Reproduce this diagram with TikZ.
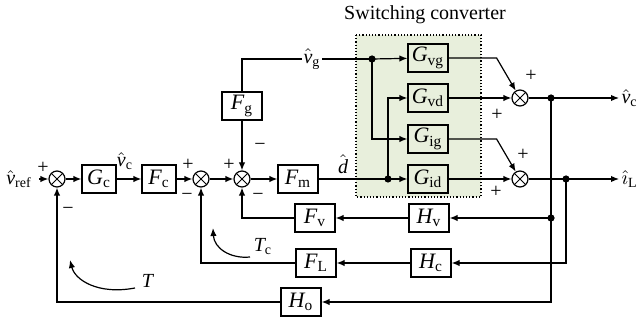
\documentclass[tikz,border=0pt]{standalone}
\usepackage{fontspec}
\setmainfont{Liberation Serif}
\usetikzlibrary{arrows.meta}
\definecolor{convgreen}{RGB}{232,239,220}
\newcommand{\tf}[2]{$\mathit{#1}_{\mathrm{#2}}$}
\newcommand{\hs}[2]{$\hat{\mathit{#1}}_{\mathrm{#2}}$}

\begin{document}
\begin{tikzpicture}[x=0.5pt,y=-0.5pt,line width=0.6pt,>={Latex[length=4pt,width=3.2pt]},
  blk/.style={draw,minimum width=20pt,minimum height=14pt,inner sep=0pt,font=\fontsize{11}{13}\selectfont},
  sblk/.style={blk,minimum width=17pt},
  sumnode/.style={draw,circle,minimum size=8pt,inner sep=0pt,
    path picture={\draw[line width=0.5pt] (path picture bounding box.north west)--(path picture bounding box.south east)
      (path picture bounding box.south west)--(path picture bounding box.north east);}},
  sgn/.style={inner sep=0pt}]
  \useasboundingbox (0,0) rectangle (637,320);
  \filldraw[fill=convgreen,densely dotted] (356,35) rectangle (481,197);
  \node (conv) at (425,15) {Switching converter};

  \node (vref) at (19,179) {\hs{v}{ref}};
  \node[sumnode] (s1) at (57,179) {};
  \node[sblk] (Gc) at (99,179) {\tf{G}{c}};
  \node (vc) at (125,161) {\hs{v}{c}};
  \node[sblk] (Fc) at (159,179) {\tf{F}{c}};
  \node[sumnode] (s2) at (201,179) {};
  \node[sumnode] (s3) at (242,179) {};
  \node[blk] (Fg) at (242,106) {\tf{F}{g}};
  \node[blk] (Fm) at (298,179) {\tf{F}{m}};
  \node (dhat) at (343,164) {$\hat{\mathit{d}}$};
  \coordinate (dd) at (388,179);
  \coordinate (dvg) at (372,59);
  \node[blk] (Gvg) at (428,58) {\tf{G}{vg}};
  \node[blk] (Gvd) at (428,98) {\tf{G}{vd}};
  \node[blk] (Gig) at (428,139) {\tf{G}{ig}};
  \node[blk] (Gid) at (428,179) {\tf{G}{id}};
  \node[sumnode] (s4) at (520,98) {};
  \node[sumnode] (s5) at (520,179) {};
  \coordinate (dvc) at (551,98);
  \coordinate (diL) at (566,179);
  \coordinate (dHv) at (551,218);
  \node[anchor=west,inner sep=1pt] (vcout) at (619,98) {\hs{v}{c}};
  \node[anchor=west,inner sep=1pt] (iLout) at (619,179) {$\hat{\imath}_{\mathrm{L}}$};
  \node[blk] (Hv) at (429,218) {\tf{H}{v}};
  \node[blk] (Fv) at (315,218) {\tf{F}{v}};
  \node[blk] (Hc) at (431,263) {\tf{H}{c}};
  \node[blk] (FL) at (316,263) {\tf{F}{L}};
  \node[blk] (Ho) at (301,302) {\tf{H}{o}};

  \draw[->] (vref) -- (s1);
  \draw[->] (s1) -- (Gc);
  \draw[->] (Gc) -- (Fc);
  \draw[->] (Fc) -- (s2);
  \draw[->] (s2) -- (s3);
  \draw[->] (s3) -- (Fm);
  \draw[->] (Fm) -- (Gid);
  \draw[->] (dd) |- (Gvd);
  \draw (Fg) |- (dvg);
  \node[fill=white,inner sep=1pt] (vg) at (312,59) {\hs{v}{g}};
  \draw[->] (dvg) -- (Gvg);
  \draw[->] (dvg) |- (Gig);
  \draw[->] (Fg) -- (s3);
  \draw[->] (Gvg.east) -- ++(48,0) -- (s4);
  \draw[->] (Gvd) -- (s4);
  \draw[->] (Gig.east) -- ++(48,0) -- (s5);
  \draw[->] (Gid) -- (s5);
  \draw[->] (s4) -- (vcout);
  \draw[->] (s5) -- (iLout);
  \draw[->] (dvc) |- (Ho);
  \draw[->] (Ho) -| (s1);
  \draw[->] (dHv) -- (Hv);
  \draw[->] (Hv) -- (Fv);
  \draw[->] (Fv) -| (s3);
  \draw[->] (diL) |- (Hc);
  \draw[->] (Hc) -- (FL);
  \draw[->] (FL) -| (s2);
  \foreach \p in {dvg,dd,dvc,diL,dHv}
    \fill (\p) circle[radius=1.8pt];

  \node[sgn] (p1) at (43,168) {+};
  \node[sgn] (m1) at (68,211) {−};
  \node[sgn] (p2) at (188,165) {+};
  \node[sgn] (m2) at (187,197) {−};
  \node[sgn] (p3) at (229,165) {+};
  \node[sgn] (m3) at (260,147) {−};
  \node[sgn] (m4) at (258,197) {−};
  \node[sgn] (p4) at (531,76) {+};
  \node[sgn] (p5) at (497,115) {+};
  \node[sgn] (p6) at (523,155) {+};
  \node[sgn] (p7) at (496,192) {+};

  \draw[->] (135,288) .. controls (98,295) and (75,280) .. (70,260);
  \node (T) at (148,281) {\textit{T}};
  \draw[->] (250,257) .. controls (230,259) and (214,248) .. (213,228);
  \node (Tc) at (263,247) {\tf{T}{c}};
\end{tikzpicture}
\end{document}
